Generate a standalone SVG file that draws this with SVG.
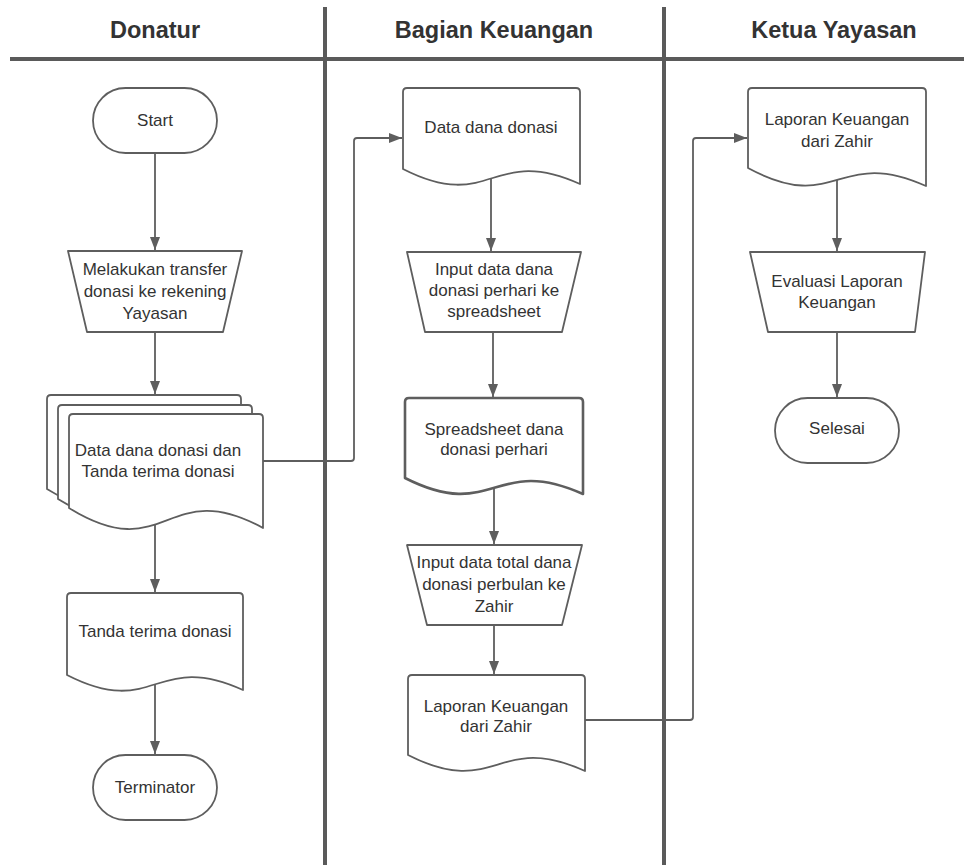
<svg xmlns="http://www.w3.org/2000/svg" width="964" height="865" viewBox="0 0 964 865">
<defs>
<style>
.lane{stroke:#5a5a5a;stroke-width:4;fill:none}
.hd{font-family:"Liberation Sans",Arial,sans-serif;font-weight:bold;font-size:23.5px;fill:#333;text-anchor:middle}
.sh{fill:#fff;stroke:#5e5e5e;stroke-width:1.8;stroke-linejoin:round}
.thick{stroke-width:2.6}
.t{font-family:"Liberation Sans",Arial,sans-serif;font-size:17px;fill:#333;text-anchor:middle}
.c{fill:none;stroke:#5e5e5e;stroke-width:1.8}
</style>
<marker id="ah" markerUnits="userSpaceOnUse" markerWidth="14" markerHeight="12" refX="13" refY="5" orient="auto">
<path d="M0,0 L13,5 L0,10 z" fill="#5e5e5e"/>
</marker>
</defs>
<rect width="964" height="865" fill="#fff"/>
<g id="lanes">
<line class="lane" x1="10" y1="59" x2="964" y2="59"/>
<line class="lane" x1="325" y1="7" x2="325" y2="865"/>
<line class="lane" x1="664" y1="7" x2="664" y2="865"/>
<text class="hd" x="155" y="38">Donatur</text>
<text class="hd" x="494" y="38">Bagian Keuangan</text>
<text class="hd" x="834" y="38">Ketua Yayasan</text>
</g>
<g id="connectors">
<line class="c" x1="155" y1="153" x2="155" y2="250" marker-end="url(#ah)"/>
<line class="c" x1="155" y1="332" x2="155" y2="394" marker-end="url(#ah)"/>
<line class="c" x1="155" y1="518" x2="155" y2="592" marker-end="url(#ah)"/>
<line class="c" x1="155" y1="684" x2="155" y2="754" marker-end="url(#ah)"/>
<line class="c" x1="491" y1="178" x2="491" y2="251" marker-end="url(#ah)"/>
<line class="c" x1="493" y1="332" x2="493" y2="397" marker-end="url(#ah)"/>
<line class="c" x1="494" y1="488" x2="494" y2="544" marker-end="url(#ah)"/>
<line class="c" x1="494" y1="625" x2="494" y2="674" marker-end="url(#ah)"/>
<line class="c" x1="837" y1="178" x2="837" y2="251" marker-end="url(#ah)"/>
<line class="c" x1="837" y1="332" x2="837" y2="397" marker-end="url(#ah)"/>
<path class="c" d="M263,461 H351 Q354,461 354,458 V141 Q354,138 357,138 H402" marker-end="url(#ah)"/>
<path class="c" d="M585,720 H690 Q693,720 693,717 V141 Q693,138 696,138 H747" marker-end="url(#ah)"/>
</g>
<g id="start">
<rect class="sh" x="93" y="88" width="124" height="65" rx="32.5"/>
<text class="t" x="155" y="126">Start</text>
</g>
<g id="transfer">
<path class="sh" d="M68,251 H242 L223,332 H87 Z"/>
<text class="t" x="155" y="275">Melakukan transfer</text>
<text class="t" x="155" y="297">donasi ke rekening</text>
<text class="t" x="155" y="319">Yayasan</text>
</g>
<g id="multidoc">
<path class="sh" d="M47,489 V399 Q47,395 51,395 H237 Q241,395 241,399 V509 C144,456 144,549 47,489 Z"/>
<path class="sh" d="M58,499 V409 Q58,405 62,405 H248 Q252,405 252,409 V519 C155,466 155,559 58,499 Z"/>
<path class="sh" d="M69,508 V418 Q69,414 73,414 H259 Q263,414 263,418 V528 C166,475 166,568 69,508 Z"/>
<text class="t" x="158" y="456">Data dana donasi dan</text>
<text class="t" x="158" y="477">Tanda terima donasi</text>
</g>
<g id="tanda">
<path class="sh" d="M67,675 V597 Q67,593 71,593 H239 Q243,593 243,597 V690 C155,650 155,720 67,675 Z"/>
<text class="t" x="155" y="637">Tanda terima donasi</text>
</g>
<g id="terminator">
<rect class="sh" x="93" y="755" width="124" height="65" rx="32.5"/>
<text class="t" x="155" y="793">Terminator</text>
</g>
<g id="datadana">
<path class="sh" d="M403,169 V92 Q403,88 407,88 H576 Q580,88 580,92 V184 C491.5,144 491.5,214 403,169 Z"/>
<text class="t" x="491" y="133">Data dana donasi</text>
</g>
<g id="input1">
<path class="sh" d="M407,252 H581 L562,332 H425 Z"/>
<text class="t" x="494" y="275">Input data dana</text>
<text class="t" x="494" y="296">donasi perhari ke</text>
<text class="t" x="494" y="317">spreadsheet</text>
</g>
<g id="spreadsheet">
<path class="sh thick" d="M405,478 V402 Q405,398 409,398 H579 Q583,398 583,402 V494 C494,454 494,523 405,478 Z"/>
<text class="t" x="494" y="435">Spreadsheet dana</text>
<text class="t" x="494" y="455">donasi perhari</text>
</g>
<g id="input2">
<path class="sh" d="M407,545 H582 L562,625 H427 Z"/>
<text class="t" x="494" y="568">Input data total dana</text>
<text class="t" x="494" y="590">donasi perbulan ke</text>
<text class="t" x="494" y="612">Zahir</text>
</g>
<g id="laporan1">
<path class="sh" d="M408,755 V679 Q408,675 412,675 H581 Q585,675 585,679 V771 C496.5,731 496.5,800 408,755 Z"/>
<text class="t" x="496" y="712">Laporan Keuangan</text>
<text class="t" x="496" y="732">dari Zahir</text>
</g>
<g id="laporan2">
<path class="sh" d="M748,168 V92 Q748,88 752,88 H922 Q926,88 926,92 V186 C837,146 837,216 748,168 Z"/>
<text class="t" x="837" y="125">Laporan Keuangan</text>
<text class="t" x="837" y="147">dari Zahir</text>
</g>
<g id="evaluasi">
<path class="sh" d="M750,252 H925 L915,332 H768 Z"/>
<text class="t" x="837" y="287">Evaluasi Laporan</text>
<text class="t" x="837" y="308">Keuangan</text>
</g>
<g id="selesai">
<rect class="sh" x="775" y="398" width="124" height="65" rx="32.5"/>
<text class="t" x="837" y="434">Selesai</text>
</g>
</svg>
